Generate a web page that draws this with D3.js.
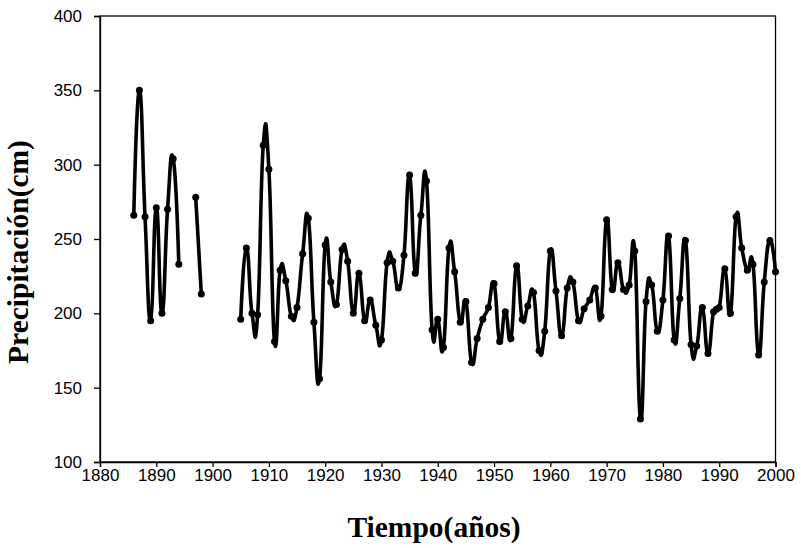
<!DOCTYPE html>
<html><head><meta charset="utf-8">
<script src="https://cdn.jsdelivr.net/npm/d3@7/dist/d3.min.js"></script>
<style>body{margin:0;background:#fff}</style>
</head><body>
<svg id="chart" width="801" height="548"></svg>
<script>
// Annual precipitation (cm); years with no record are simply absent
const years = [1886,1887,1888,1889,1890,1891,1892,1893,1894,
  1897,1898,
  1905,1906,1907,1908,1909,1910,1911,1912,1913,1914,1915,1916,1917,1918,1919,
  1920,1921,1922,1923,1924,1925,1926,1927,1928,1929,
  1930,1931,1932,1933,1934,1935,1936,1937,1938,1939,
  1940,1941,1942,1943,1944,1945,1946,1947,1948,1949,
  1950,1951,1952,1953,1954,1955,1956,1957,1958,1959,
  1960,1961,1962,1963,1964,1965,1966,1967,1968,1969,
  1970,1971,1972,1973,1974,1975,1976,1977,1978,1979,
  1980,1981,1982,1983,1984,1985,1986,1987,1988,1989,
  1990,1991,1992,1993,1994,1995,1996,1997,1998,1999,2000];
const precip = [266,350,265,195,271,200,270,304,233,
  278,213,
  196,244,200,199,313,297,181,229,222,198,204,240,264,194,156,
  246,221,206,243,235,200,227,195,209,192,
  182,234,235,217,239,293,227,266,289,189,
  196,177,244,228,194,208,167,183,196,204,
  220,181,201,183,232,196,205,214,175,188,
  242,215,185,217,221,195,203,209,217,198,
  263,216,234,216,219,242,129,208,219,188,
  209,252,182,210,249,179,178,204,173,201,
  204,230,200,265,244,229,233,172,221,249,228];
const xTicks = [1880,1890,1900,1910,1920,1930,1940,1950,1960,1970,1980,1990,2000];
const yTicks = [100,150,200,250,300,350,400];
const xTitle = "Tiempo(años)";
const yTitle = "Precipitación(cm)";

const svg = d3.select("#chart");
const pL = 100, pR = 775.5, pT = 16, pB = 462;
const x = d3.scaleLinear().domain([1880, 2000]).range([pL, pR]);
const y = d3.scaleLinear().domain([100, 400]).range([pB, pT]);

// frame
svg.append("rect").attr("x", pL).attr("y", pT)
  .attr("width", pR - pL).attr("height", pB - pT)
  .attr("fill", "none").attr("stroke", "#000").attr("stroke-width", 1.3);

const gx = svg.append("g").attr("transform", `translate(0,${pB})`)
  .call(d3.axisBottom(x).tickValues(xTicks).tickFormat(d3.format("d")).tickSizeOuter(0).tickSize(5).tickPadding(2));
const gy = svg.append("g").attr("transform", `translate(${pL},0)`)
  .call(d3.axisLeft(y).tickValues(yTicks).tickSizeOuter(0).tickSize(6).tickPadding(12));
[gx, gy].forEach(g => {
  g.select(".domain").attr("stroke", "#000").attr("stroke-width", 1.3);
  g.selectAll(".tick line").attr("stroke", "#000").attr("stroke-width", 1.3);
  g.selectAll(".tick text").attr("fill", "#000")
    .style("font-family", "'Liberation Sans', Arial, sans-serif").style("font-size", "17px");
});

// data segments (break where years are missing)
const pts = years.map((yr, i) => ({yr, v: precip[i]}));
const segs = [];
pts.forEach((p, i) => {
  if (i === 0 || p.yr - pts[i - 1].yr > 1) segs.push([]);
  segs[segs.length - 1].push(p);
});
const line = d3.line().x(d => x(d.yr)).y(d => y(d.v)).curve(d3.curveCardinal.tension(-0.5));
svg.append("g").selectAll("path").data(segs).join("path")
  .attr("d", line).attr("fill", "none").attr("stroke", "#000")
  .attr("stroke-width", 3.6).attr("stroke-linejoin", "round");
svg.append("g").selectAll("circle").data(pts).join("circle")
  .attr("cx", d => x(d.yr)).attr("cy", d => y(d.v)).attr("r", 3.5).attr("fill", "#000");

// titles
svg.append("text").attr("x", 434).attr("y", 537)
  .attr("text-anchor", "middle")
  .style("font-family", "'Liberation Serif', 'Times New Roman', serif")
  .style("font-weight", "bold").style("font-size", "29.5px").text(xTitle);
svg.append("text").attr("transform", `translate(28,252) rotate(-90)`)
  .attr("text-anchor", "middle")
  .style("font-family", "'Liberation Serif', 'Times New Roman', serif")
  .style("font-weight", "bold").style("font-size", "29.5px").text(yTitle);
</script>
</body></html>
